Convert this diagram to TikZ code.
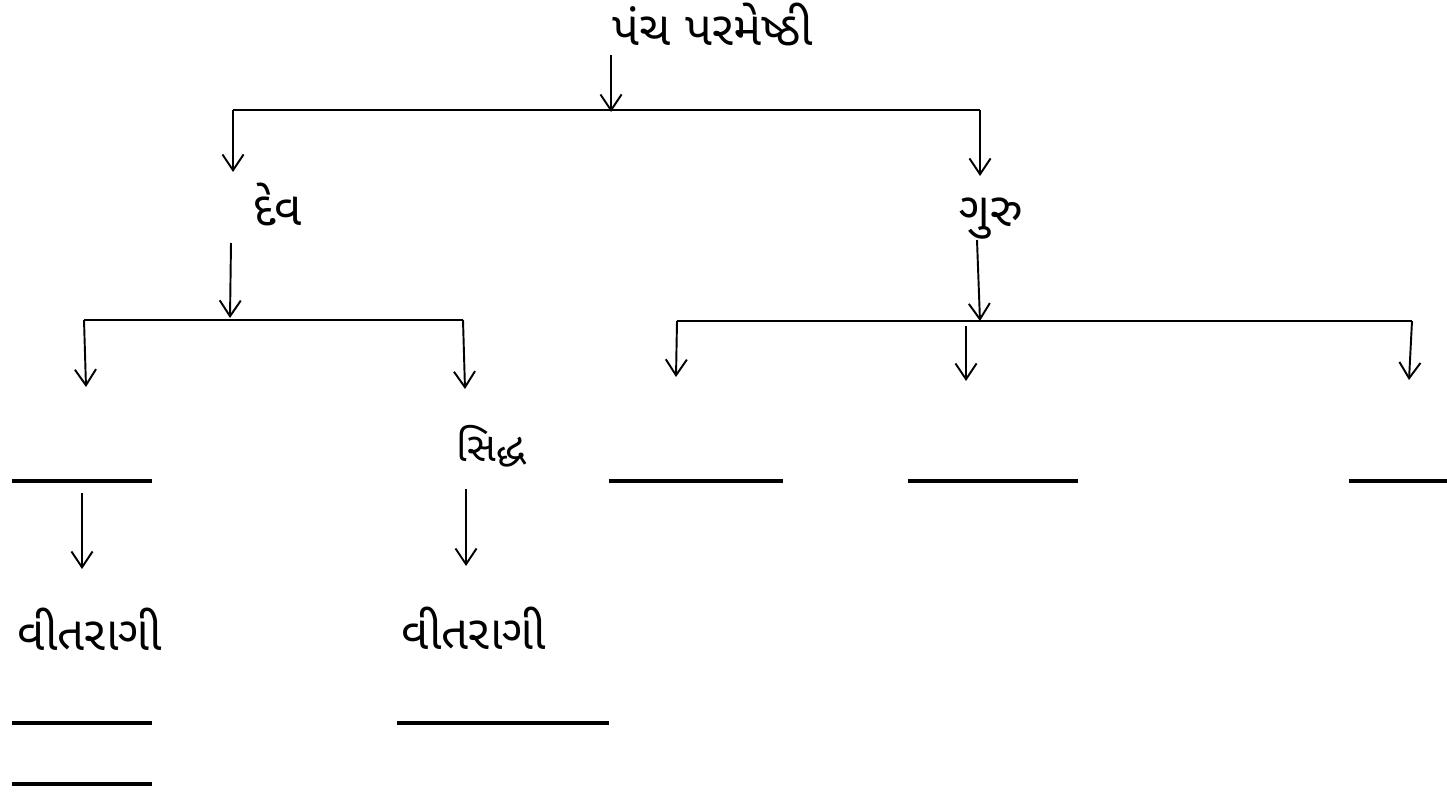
\documentclass[tikz,border=0pt]{standalone}
\usepackage{fontspec}
\newfontfamily\gujfont[Script=Gujarati]{Noto Sans Gujarati UI}
\usetikzlibrary{arrows.meta}
\tikzset{
  word/.style={font=\gujfont\fontsize{27}{32}\selectfont, inner sep=0pt},
  smallword/.style={font=\gujfont\fontsize{23}{28}\selectfont, inner sep=0pt},
  down/.style={-{Straight Barb[length=9pt,width=12pt]}, line width=1.1pt},
  bar/.style={line width=1.1pt},
  blank/.style={line width=2.2pt},
}
\begin{document}
\begin{tikzpicture}[x=0.02cm, y=-0.02cm]
  \useasboundingbox (0,0) rectangle (1447,794);
  % words
  \node[word] (pancha) at (713,24) {પંચ પરમેષ્ઠી};
  \node[word] (dev) at (278,204) {દેવ};
  \node[word] (guru) at (991,219) {ગુરુ};
  \node[smallword] (siddh) at (491,446) {સિદ્ધ};
  \node[word] (vitl) at (90,629) {વીતરાગી};
  \node[word] (vitr) at (474,628) {વીતરાગી};

  % first level
  \coordinate (p0) at (611,55);
  \coordinate (p1) at (611,112);
  \coordinate (b1l) at (233,110);
  \coordinate (b1r) at (980,110);
  \coordinate (d0) at (233,172);
  \coordinate (g0) at (980,176);
  \draw[down] (p0) -- (p1);
  \draw[bar] (b1l) -- (b1r);
  \draw[down] (b1l) -- (d0);
  \draw[down] (b1r) -- (g0);

  % under dev
  \coordinate (d1) at (231,243);
  \coordinate (d2) at (230,318);
  \coordinate (b2l) at (84,320);
  \coordinate (b2r) at (463,320);
  \coordinate (a1) at (86,387);
  \coordinate (a2) at (465,389);
  \draw[down] (d1) -- (d2);
  \draw[bar] (b2l) -- (b2r);
  \draw[down] (b2l) -- (a1);
  \draw[down] (b2r) -- (a2);

  % under guru
  \coordinate (g1) at (977,240);
  \coordinate (g2) at (980,321);
  \coordinate (b3l) at (677,321);
  \coordinate (b3r) at (1412,321);
  \coordinate (m0) at (966,326);
  \coordinate (c1) at (676,377);
  \coordinate (c2) at (966,381);
  \coordinate (c3) at (1409,380);
  \draw[down] (g1) -- (g2);
  \draw[bar] (b3l) -- (b3r);
  \draw[down] (b3l) -- (c1);
  \draw[down] (m0) -- (c2);
  \draw[down] (b3r) -- (c3);

  % blanks
  \foreach \xa/\xb/\yy in {12/152/481, 609/783/481, 908/1078/481, 1349/1447/481,
                           12/152/723, 12/152/784, 397/609/723}
    \draw[blank] (\xa,\yy) -- (\xb,\yy);

  % down to vitaragi
  \coordinate (e1) at (82,493);
  \coordinate (e2) at (82,569);
  \coordinate (s1) at (466,489);
  \coordinate (s2) at (466,566);
  \draw[down] (e1) -- (e2);
  \draw[down] (s1) -- (s2);
\end{tikzpicture}
\end{document}
